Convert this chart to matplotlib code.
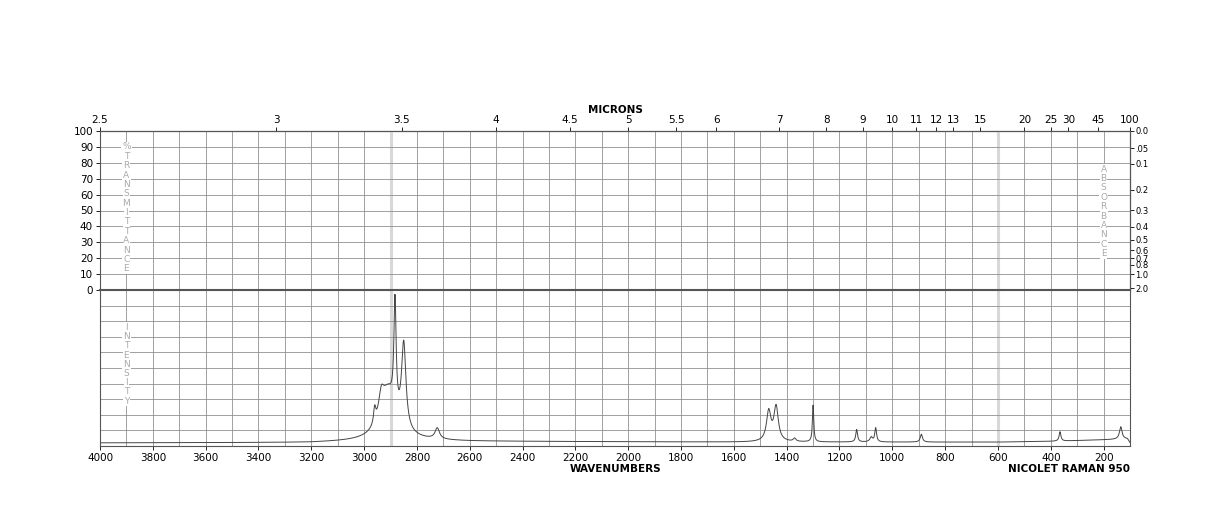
import numpy as np
import matplotlib
matplotlib.use("Agg")
import matplotlib.pyplot as plt

# peak table (cm-1, height in % of panel, half width)
peak_pos = [2960, 2935, 2910, 2883, 2850, 2723, 1468, 1440, 1370, 1300, 1135, 1080, 1063, 890, 365, 135]
peak_height = [10, 14, 30, 70, 55, 7, 19, 22, 2, 24, 8, 3, 9, 5, 6, 8]
peak_width = [5, 12, 35, 5, 10, 10, 10, 10, 6, 3, 4, 6, 4, 5, 4, 6]
base_pos = [4000, 3200, 3000, 2800, 2600, 1600, 600, 400, 200, 110, 100]
base_val = [2.0, 2.2, 3.0, 3.5, 3.0, 2.5, 2.5, 3.0, 4.0, 4.5, 2.0]

micron_labels = [2.5, 3, 3.5, 4, 4.5, 5, 5.5, 6, 7, 8, 9, 10, 11, 12, 13, 15, 20, 25, 30, 45, 100]
absorb_labels = ["0.0", ".05", "0.1", "0.2", "0.3", "0.4", "0.5", "0.6", "0.7", "0.8", "1.0", "2.0"]

wn = np.linspace(4000, 100, 4000)
spec = np.interp(wn[::-1], base_pos[::-1], base_val[::-1])[::-1]
for p, h, w in zip(peak_pos, peak_height, peak_width):
    spec = spec + h / (1 + ((wn - p) / w) ** 2)

fig = plt.figure(figsize=(12.24, 5.28), dpi=100)
L, R = 100 / 1224, 1130 / 1224
ax1 = fig.add_axes([L, 238 / 528, R - L, (397 - 238) / 528])
ax2 = fig.add_axes([L, 82 / 528, R - L, (238 - 82) / 528])
gc = "#909090"

for ax in (ax1, ax2):
    ax.set_xlim(4000, 100)
    ax.set_ylim(0, 100)
    for x in range(3900, 100, -100):
        ax.axvline(x, color=gc, lw=0.6, zorder=1)
    for x in (2900, 600):
        ax.axvline(x, color="#d8d8d8", lw=2.2, zorder=1)
    for y in range(10, 100, 10):
        ax.axhline(y, color=gc, lw=0.6, zorder=1)
    for s in ax.spines.values():
        s.set_color("#555555")
        s.set_linewidth(0.8)
    ax.tick_params(labelsize=7.5, length=3, width=0.6, pad=2)

ax1.spines["bottom"].set_linewidth(1.5)
ax1.set_yticks(range(0, 101, 10))
ax1.set_xticks([])
ax2.set_yticks([])
ax2.set_xticks(range(4000, 99, -200))
ax2.set_xticklabels([str(v) for v in range(4000, 99, -200)])

# top micron axis
top = ax1.secondary_xaxis("top")
top.set_xticks([10000 / m for m in micron_labels])
top.set_xticklabels([("%g" % m) for m in micron_labels])
top.tick_params(labelsize=7.5, length=3, width=0.6, pad=1)

# right absorbance axis
rt = ax1.secondary_yaxis("right")
avals = [float(a) for a in absorb_labels]
rt.set_yticks([100 * 10 ** (-a) for a in avals])
rt.set_yticklabels(absorb_labels)
rt.tick_params(labelsize=6, length=3, width=0.6, pad=1)

ax2.plot(wn, spec, color="#444444", lw=0.7, zorder=3)

def vword(ax, x, y0, word, step):
    for i, ch in enumerate(word):
        ax.text(x, y0 - i * step, ch, fontsize=6.5, color="#aaaaaa", ha="center", va="center",
                zorder=4, bbox=dict(facecolor="white", edgecolor="none", pad=0.6))

vword(ax1, 3900, 90, "%TRANSMITTANCE", 5.9)
vword(ax2, 3900, 76, "INTENSITY", 5.9)
vword(ax1, 200, 76, "ABSORBANCE", 5.9)

fig.text((L + R) / 2, 1 - 110 / 528, "MICRONS", fontsize=7.5, fontweight="bold", ha="center", va="center")
fig.text((L + R) / 2, 1 - 469 / 528, "WAVENUMBERS", fontsize=7.5, fontweight="bold", ha="center", va="center")
fig.text(R, 1 - 469 / 528, "NICOLET RAMAN 950", fontsize=7.5, fontweight="bold", ha="right", va="center")

fig.savefig("out.png", dpi=100, facecolor="white")
